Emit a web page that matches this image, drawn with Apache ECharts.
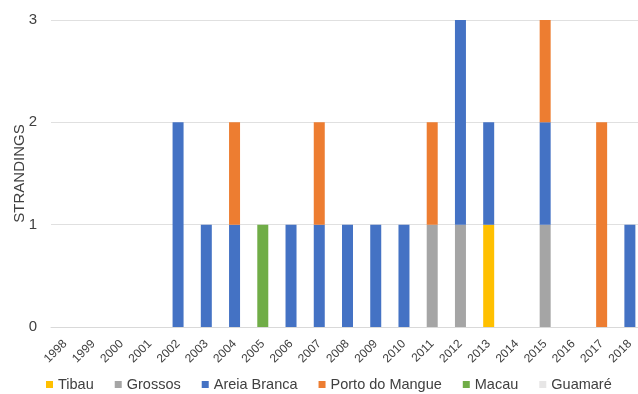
<!DOCTYPE html>
<html><head><meta charset="utf-8">
<script src="https://cdn.jsdelivr.net/npm/echarts@6/dist/echarts.min.js"></script>
<style>html,body{margin:0;padding:0;background:#fff}#c{width:638px;height:394px}</style>
</head><body><div id="c"></div>
<script>
const years = ['1998','1999','2000','2001','2002','2003','2004','2005','2006','2007','2008','2009','2010','2011','2012','2013','2014','2015','2016','2017','2018'];
const tibau        = [0,0,0,0,0,0,0,0,0,0,0,0,0,0,0,1,0,0,0,0,0];
const grossos      = [0,0,0,0,0,0,0,0,0,0,0,0,0,1,1,0,0,1,0,0,0];
const areiaBranca  = [0,0,0,0,2,1,1,0,1,1,1,1,1,0,2,1,0,1,0,0,1];
const portoMangue  = [0,0,0,0,0,0,1,0,0,1,0,0,0,1,0,0,0,1,0,2,0];
const macau        = [0,0,0,0,0,0,0,1,0,0,0,0,0,0,0,0,0,0,0,0,0];
const guamare      = [0,0,0,0,0,0,0,0,0,0,0,0,0,0,0,0,0,0,0,0,0];
const yTicks = [0,1,2,3];

const names = ['Tibau','Grossos','Areia Branca','Porto do Mangue','Macau','Guamaré'];
const colors = ['#FFC000','#A5A5A5','#4472C4','#ED7D31','#70AD47','#E7E6E6'];
const values = [tibau,grossos,areiaBranca,portoMangue,macau,guamare];

const chart = echarts.init(document.getElementById('c'));
chart.setOption({
  animation:false,
  textStyle:{fontFamily:'Liberation Sans, Arial, sans-serif'},
  grid:{left:51,width:593,top:20,height:307,containLabel:false,outerBoundsMode:'none'},
  legend:{
    top:372,left:41,itemWidth:7,itemHeight:7,itemGap:21,icon:'rect',
    textStyle:{fontSize:14.5,color:'#404040',padding:[0,0,0,0]},
    data:names
  },
  xAxis:{type:'category',data:years,
    axisLine:{lineStyle:{color:'#D9D9D9'}},axisTick:{show:false},
    axisLabel:{rotate:45,fontSize:12,color:'#404040',interval:0,margin:15}
  },
  yAxis:{type:'value',min:yTicks[0],max:yTicks[yTicks.length-1],interval:1,
    name:'STRANDINGS',nameLocation:'middle',nameGap:24,nameRotate:90,nameMoveOverlap:false,
    nameTextStyle:{fontSize:15,color:'#404040'},
    axisLine:{show:false},axisTick:{show:false},
    axisLabel:{fontSize:15,color:'#404040',margin:14},
    splitLine:{lineStyle:{color:'#E0E0E0'}}
  },
  series:names.map((n,i)=>({
    name:n,type:'bar',stack:'s',data:values[i],barWidth:11,
    itemStyle:{color:colors[i]}
  }))
});
</script></body></html>
